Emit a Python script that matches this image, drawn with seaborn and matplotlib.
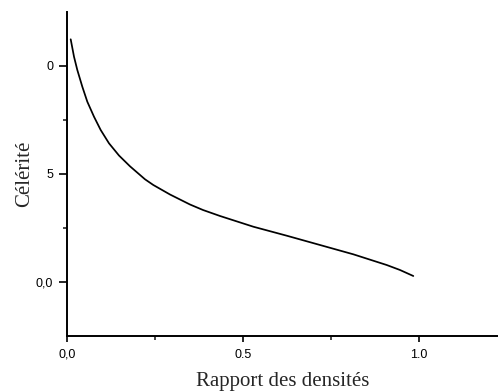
import matplotlib
matplotlib.use("Agg")
import matplotlib.pyplot as plt
import seaborn as sns
import pandas as pd
from matplotlib.ticker import FixedLocator, FixedFormatter

# Data
rapport = [0.0105, 0.0199, 0.0293, 0.0435, 0.0577, 0.0767, 0.0957, 0.1193, 0.1477,
           0.1790, 0.2216, 0.2452, 0.2926, 0.3494, 0.3864, 0.4347, 0.5293, 0.6241,
           0.7188, 0.8134, 0.9082, 0.9460, 0.9838]
celerite = [1.1236, 1.0431, 0.9815, 0.9042, 0.8347, 0.7653, 0.7037, 0.6421, 0.5856,
            0.5356, 0.4755, 0.4491, 0.4051, 0.3588, 0.3333, 0.3056, 0.2560, 0.2144,
            0.1713, 0.1282, 0.0787, 0.0556, 0.0278]

x_ticks = [0.0, 0.5, 1.0]
x_tick_labels = ["0,0", "0.5", "1.0"]
y_ticks = [0.0, 0.5, 1.0]
y_tick_labels = ["0,0", "5", "0"]

sns.set_style("ticks")
plt.rcParams['font.family'] = ['Liberation Sans', 'DejaVu Sans']

df = pd.DataFrame({"x": rapport, "y": celerite})

fig = plt.figure(figsize=(4.98, 3.92), dpi=100)
ax = fig.add_axes([67/498, 56/392, (498-67)/498, 324/392])
sns.lineplot(data=df, x="x", y="y", ax=ax, color="black", linewidth=1.25, sort=False)

ax.set_xlim(0.0, (498-67)/352)
ax.set_ylim(-0.25, 1.25)

ax.spines["top"].set_visible(False)
ax.spines["right"].set_visible(False)
for s in ("left", "bottom"):
    ax.spines[s].set_linewidth(1.4)
    ax.spines[s].set_color("black")

ax.xaxis.set_major_locator(FixedLocator(x_ticks))
ax.xaxis.set_major_formatter(FixedFormatter(x_tick_labels))
ax.xaxis.set_minor_locator(FixedLocator([0.25, 0.75]))
ax.yaxis.set_major_locator(FixedLocator(y_ticks))
ax.yaxis.set_major_formatter(FixedFormatter(y_tick_labels))
ax.yaxis.set_minor_locator(FixedLocator([0.25, 0.75]))

ax.tick_params(which="major", direction="out", length=5, width=1.2, labelsize=9, colors="black")
ax.tick_params(axis="x", which="major", length=4, pad=5)
ax.tick_params(axis="y", which="major", length=6, pad=4)
ax.tick_params(which="minor", direction="out", length=3, width=1.2)

ax.set_xlabel("Rapport des densités", family=["Liberation Serif", "DejaVu Serif"], fontsize=15, labelpad=8)
ax.set_ylabel("Célérité", family=["Liberation Serif", "DejaVu Serif"], fontsize=15, labelpad=1)

fig.savefig("out.png", dpi=100)
